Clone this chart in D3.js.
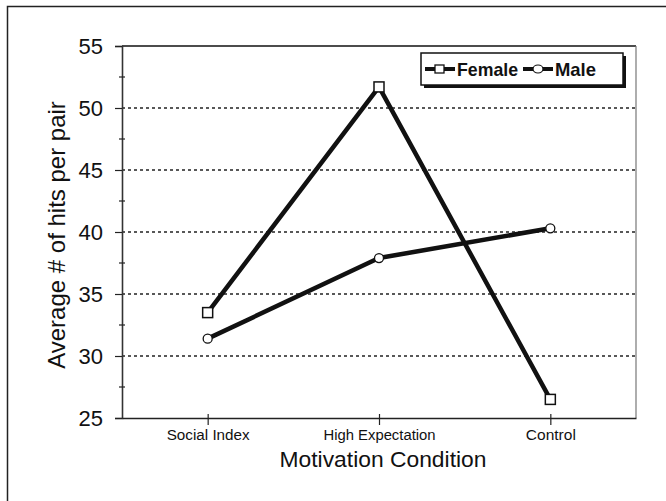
<!DOCTYPE html>
<html>
<head>
<meta charset="utf-8">
<script src="https://cdn.jsdelivr.net/npm/d3@7"></script>
<style>
  body { margin: 0; background: white; }
  svg { display: block; font-family: Arial, "Liberation Sans", sans-serif; }
</style>
</head>
<body>
<div id="viz"></div>
<script>

const width = 666;
const height = 501;

var conditions = ["Social Index", "High Expectation", "Control"]
var female = [33.5, 51.7, 26.5]
var male = [31.4, 37.9, 40.3]
var yTicks = [25, 30, 35, 40, 45, 50, 55]
var minorTicks = [27.5, 32.5, 37.5, 42.5, 47.5, 52.5]

const margin = { top: 46, right: 30, bottom: 83, left: 122 };

const x = d3.scalePoint()
    .domain(conditions)
    .range([margin.left, width - margin.right])
    .padding(0.5);

const y = d3.scaleLinear()
    .domain([25, 55])
    .range([height - margin.bottom, margin.top]);

const svg = d3.select("#viz")
    .append("svg")
    .attr("width", width)
    .attr("height", height);

// outer frame (only left and top visible)
svg.append("path")
    .attr("d", "M7.5,501 V6.5 H666")
    .attr("fill", "none")
    .attr("stroke", "#222")
    .attr("stroke-width", 1.5);

const x0 = margin.left, x1 = width - margin.right;
const yTop = margin.top, yBot = height - margin.bottom;

// gridlines
svg.append("g")
    .selectAll("line")
    .data(yTicks.filter(d => d > 25 && d < 55))
    .join("line")
    .attr("x1", x0)
    .attr("x2", x1)
    .attr("y1", d => y(d))
    .attr("y2", d => y(d))
    .attr("stroke", "#222")
    .attr("stroke-width", 1.4)
    .attr("stroke-dasharray", "3,3");

// plot frame: top and right
svg.append("line")
    .attr("x1", x0).attr("x2", x1)
    .attr("y1", yTop).attr("y2", yTop)
    .attr("stroke", "#111").attr("stroke-width", 1.5);
svg.append("line")
    .attr("x1", x1).attr("x2", x1)
    .attr("y1", yTop).attr("y2", yBot)
    .attr("stroke", "#777").attr("stroke-width", 1.2);

// y axis
const yAxis = svg.append("g")
    .attr("transform", `translate(${x0},0)`)
    .call(d3.axisLeft(y).tickValues(yTicks).tickSize(7).tickPadding(12).tickFormat(d3.format("d")));
yAxis.select(".domain").attr("stroke", "#333").attr("stroke-width", 1.6);
yAxis.selectAll(".tick line").attr("stroke", "#222").attr("stroke-width", 1.2);
yAxis.selectAll(".tick text")
    .attr("font-size", 22)
    .attr("fill", "#111")
    .attr("font-family", "Arial, 'Liberation Sans', sans-serif");

// y minor ticks
svg.append("g")
    .selectAll("line")
    .data(minorTicks)
    .join("line")
    .attr("x1", x0 - 3)
    .attr("x2", x0 + 3)
    .attr("y1", d => y(d))
    .attr("y2", d => y(d))
    .attr("stroke", "#222")
    .attr("stroke-width", 1.2);

// x axis
const xAxis = svg.append("g")
    .attr("transform", `translate(0,${yBot})`)
    .call(d3.axisBottom(x).tickSize(7).tickPadding(4).tickSizeOuter(0));
xAxis.select(".domain").attr("stroke", "#222").attr("stroke-width", 1.6);
xAxis.selectAll(".tick line").attr("stroke", "#222").attr("stroke-width", 1.2).attr("y1", -4);
xAxis.selectAll(".tick text")
    .attr("font-size", 14)
    .attr("fill", "#111")
    .attr("font-family", "Arial, 'Liberation Sans', sans-serif")
    .attr("dy", "0.75em")
    .attr("textLength", d => ({ "Social Index": 83, "High Expectation": 112, "Control": 50 })[d])
    .attr("lengthAdjust", "spacingAndGlyphs");

// axis titles
svg.append("text")
    .attr("x", (x0 + x1) / 2 + 4)
    .attr("y", 467)
    .attr("text-anchor", "middle")
    .attr("font-size", 22)
    .attr("fill", "#111")
    .attr("textLength", 207)
    .attr("lengthAdjust", "spacingAndGlyphs")
    .text("Motivation Condition");

svg.append("text")
    .attr("transform", `translate(65,${(yTop + yBot) / 2 + 3}) rotate(-90)`)
    .attr("text-anchor", "middle")
    .attr("font-size", 24)
    .attr("fill", "#111")
    .text("Average # of hits per pair");

// lines
const line = d3.line()
    .x((d, i) => x(conditions[i]))
    .y(d => y(d));

svg.append("path")
    .datum(male)
    .attr("d", line)
    .attr("fill", "none")
    .attr("stroke", "#111")
    .attr("stroke-width", 4.5)
    .attr("stroke-linejoin", "round");

svg.append("path")
    .datum(female)
    .attr("d", line)
    .attr("fill", "none")
    .attr("stroke", "#111")
    .attr("stroke-width", 4.5)
    .attr("stroke-linejoin", "round");

// markers
svg.append("g")
    .selectAll("circle")
    .data(male)
    .join("circle")
    .attr("cx", (d, i) => x(conditions[i]))
    .attr("cy", d => y(d))
    .attr("r", 4.5)
    .attr("fill", "white")
    .attr("stroke", "#111")
    .attr("stroke-width", 1.3);

svg.append("g")
    .selectAll("rect")
    .data(female)
    .join("rect")
    .attr("x", (d, i) => x(conditions[i]) - 5)
    .attr("y", d => y(d) - 5)
    .attr("width", 10)
    .attr("height", 10)
    .attr("fill", "white")
    .attr("stroke", "#111")
    .attr("stroke-width", 1.5);

// legend
const lg = svg.append("g");
lg.append("rect")
    .attr("x", 424).attr("y", 56)
    .attr("width", 202).attr("height", 32)
    .attr("fill", "#111");
lg.append("rect")
    .attr("x", 421).attr("y", 53)
    .attr("width", 202).attr("height", 32)
    .attr("fill", "white")
    .attr("stroke", "#111")
    .attr("stroke-width", 1.5);

var legendItems = [
    { name: "Female", x: 425, len: 61, sym: "rect" },
    { name: "Male", x: 523, len: 41, sym: "circle" }
]

legendItems.forEach(function (it) {
    lg.append("line")
        .attr("x1", it.x).attr("x2", it.x + 30)
        .attr("y1", 69).attr("y2", 69)
        .attr("stroke", "#111").attr("stroke-width", 4);
    if (it.sym == "rect") {
        lg.append("rect")
            .attr("x", it.x + 10).attr("y", 65)
            .attr("width", 9).attr("height", 8)
            .attr("fill", "white").attr("stroke", "#111").attr("stroke-width", 1.3);
    } else {
        lg.append("ellipse")
            .attr("cx", it.x + 15).attr("cy", 69)
            .attr("rx", 5).attr("ry", 4)
            .attr("fill", "white").attr("stroke", "#111").attr("stroke-width", 1.2);
    }
    lg.append("text")
        .attr("x", it.x + 32)
        .attr("y", 76)
        .attr("font-size", 19)
        .attr("font-weight", "bold")
        .attr("fill", "#111")
        .attr("textLength", it.len)
        .attr("lengthAdjust", "spacingAndGlyphs")
        .text(it.name);
});

</script>
</body>
</html>
